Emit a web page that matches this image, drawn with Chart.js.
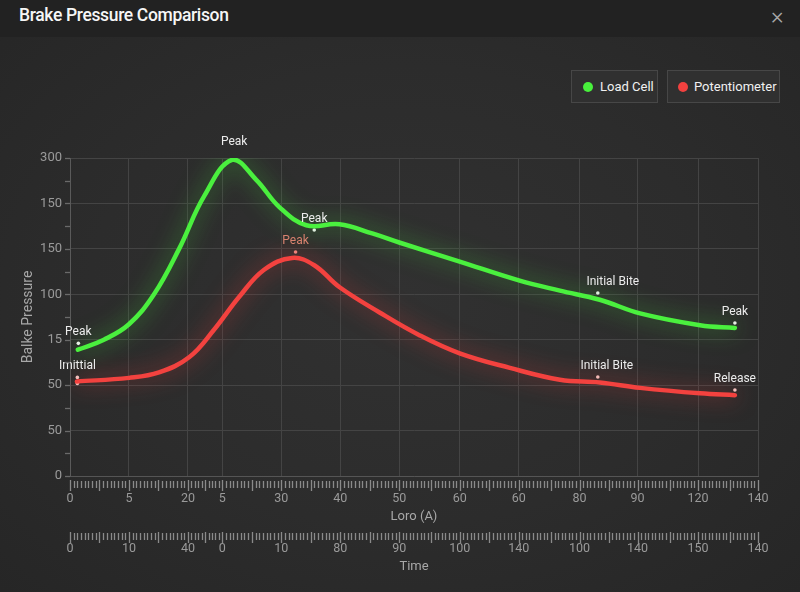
<!DOCTYPE html>
<html><head><meta charset="utf-8">
<script src="https://cdn.jsdelivr.net/npm/chart.js@4.4.0/dist/chart.umd.min.js"></script>
<style>
html,body{margin:0;padding:0;width:800px;height:592px;overflow:hidden;font-family:Roboto,"Noto Sans",sans-serif;}
body{background:radial-gradient(ellipse at 50% 50%, #313131 0%, #2c2c2c 55%, #262626 100%);position:relative;}
#bar{position:absolute;left:0;top:0;width:800px;height:37px;background:#222222;}
#title{position:absolute;left:19px;top:5px;color:#f6f6f6;font-size:17.5px;font-weight:500;letter-spacing:-0.35px;}
#close{position:absolute;left:771px;top:2px;color:#a8a8a8;font-size:24px;font-weight:300;}
.lg{position:absolute;top:70px;height:33px;box-sizing:border-box;border:1px solid #474747;background:#303030;color:#f0f0f0;font-size:13px;line-height:31px;}
.dot{position:absolute;top:11px;width:10px;height:10px;border-radius:50%;}
canvas{position:absolute;left:0;top:0;}
</style></head>
<body>
<div id="bar"><div id="title">Brake Pressure Comparison</div><div id="close">×</div></div>
<div class="lg" style="left:571px;width:87px;"><span class="dot" style="left:11px;background:#48f03c"></span><span style="position:absolute;left:28px;">Load Cell</span></div>
<div class="lg" style="left:667px;width:113px;"><span class="dot" style="left:10px;background:#f2413f"></span><span style="position:absolute;left:26px;">Potentiometer</span></div>
<canvas id="c" width="800" height="592"></canvas>
<script>
// ---- data ----
const loadCellX = [1.6, 6.9, 12.0, 17.1, 22.2, 27.3, 33.0, 37.9, 42.6, 48.1, 54.8, 61.5, 67.0, 79.3, 91.5, 99.7, 107.8, 116.0, 128.2, 135.3];
const loadCellY = [139, 150, 167, 200, 250, 308, 348, 326, 296, 276, 277, 267, 257, 236, 215, 204, 194, 179, 166, 163];
const potX = [1.4, 12.0, 18.1, 24.3, 29.3, 34.4, 39.5, 45.2, 49.7, 54.8, 63.0, 71.1, 79.3, 89.5, 99.7, 107.8, 116.0, 128.2, 135.3];
const potY = [104, 108, 114, 131, 161, 197, 227, 240, 232, 208, 180, 155, 135, 119, 106, 103, 97, 91, 89];

const yTickValues = [0, 50, 100, 150, 200, 250, 300, 350];
const yTickLabels = ['0', '50', '50', '15', '100', '150', '150', '300'];
const xTickValues = [0, 12, 24, 31, 43, 55, 67, 79.3, 91.3, 103.7, 115.5, 127.8, 140];
const xTickLabels = ['0', '5', '20', '5', '30', '40', '50', '60', '60', '80', '90', '120', '140'];
const timeTickLabels = ['0', '10', '40', '0', '10', '80', '90', '100', '140', '100', '140', '150', '140'];

const noteX = [1.7, 33.4, 49.7, 107.4, 135.3, 1.5, 1.5, 45.9, 107.4, 135.3];
const noteY = [146, 355.5, 270.7, 201.4, 168.4, 108.5, 101.9, 246.5, 109, 94.7];
const noteText = ['Peak', 'Peak', 'Peak', 'Initial Bite', 'Peak', 'Imittial', '', 'Peak', 'Initial Bite', 'Release'];
const noteSeries = ['load', 'load', 'load', 'load', 'load', 'pot', 'pot', 'pot', 'pot', 'pot'];

// ---- styles ----
const GREEN = '#4af03e', RED = '#f3423f';
const pts = (xs, ys) => xs.map((x, i) => ({x, y: ys[i]}));

const glowPlugin = {
  id: 'glow',
  beforeDatasetDraw(chart, args) {
    const ds = chart.data.datasets[args.index];
    if (!ds.glowColor) return;
    chart.ctx.save();
    chart.ctx.shadowColor = ds.glowColor;
    chart.ctx.shadowBlur = 22;
  },
  afterDatasetDraw(chart, args) {
    const ds = chart.data.datasets[args.index];
    if (!ds.glowColor) return;
    chart.ctx.restore();
  }
};

const tickPlugin = {
  id: 'tickMarks',
  afterDraw(chart) {
    const ctx = chart.ctx;
    ctx.save();
    ctx.strokeStyle = '#8a8a8a';
    ctx.lineWidth = 1.3;
    const drawRow = (scale, yShort0, yShort1, yTall0, yTall1) => {
      for (let i = 0; i < xTickValues.length - 1; i++) {
        const p0 = scale.getPixelForValue(xTickValues[i]);
        const p1 = scale.getPixelForValue(xTickValues[i + 1]);
        const n = Math.max(2, Math.round((p1 - p0) / 3.6));
        const mid = Math.round(n / 2);
        for (let k = 0; k <= n; k++) {
          if (k === n && i < xTickValues.length - 2) continue;
          const px = Math.round(p0 + (p1 - p0) * k / n) + 0.5;
          const tall = (k === 0 || k === n || k === mid);
          ctx.beginPath();
          ctx.moveTo(px, tall ? yTall0 : yShort0);
          ctx.lineTo(px, tall ? yTall1 : yShort1);
          ctx.stroke();
        }
      }
    };
    const sx = chart.scales.x, sx2 = chart.scales.x2, sy = chart.scales.y;
    drawRow(sx, sx.top + 5, sx.top + 12, sx.top + 4, sx.top + 15);
    drawRow(sx2, sx2.top + 7, sx2.top + 14, sx2.top + 6, sx2.top + 17);
    ctx.strokeStyle = '#6a6a6a';
    for (let v = 0; v <= 350; v += 25) {
      const py = Math.round(sy.getPixelForValue(v)) + 0.5;
      ctx.beginPath();
      ctx.moveTo(sy.right - 5, py);
      ctx.lineTo(sy.right, py);
      ctx.stroke();
    }
    ctx.restore();
  }
};

const noteLabelPlugin = {
  id: 'noteLabels',
  afterDatasetsDraw(chart) {
    const meta = chart.getDatasetMeta(2);
    const ctx = chart.ctx;
    ctx.save();
    ctx.font = '12px Roboto, "Noto Sans", sans-serif';
    ctx.textBaseline = 'middle';
    ctx.textAlign = 'center';
    meta.data.forEach((el, i) => {
      if (!noteText[i]) return;
      ctx.fillStyle = (noteSeries[i] === 'pot' && noteText[i] === 'Peak') ? '#d8836f' : '#ececec';
      let dx = 0;
      if (noteText[i] === 'Initial Bite') dx = noteSeries[i] === 'load' ? 15 : 9;
      ctx.fillText(noteText[i], el.x + dx, el.y - 11);
    });
    ctx.restore();
  }
};

const tickColor = '#9a9a9a';
const tickFont = {family: 'Roboto, "Noto Sans", sans-serif', size: 12.5};

new Chart(document.getElementById('c'), {
  type: 'line',
  data: {
    datasets: [
      {
        label: 'Load Cell', data: pts(loadCellX, loadCellY),
        borderColor: GREEN, borderWidth: 4.5, pointRadius: 0, tension: 0.4,
        glowColor: 'rgba(70,240,60,0.6)',
        borderCapStyle: 'round', xAxisID: 'x', yAxisID: 'y'
      },
      {
        label: 'Potentiometer', data: pts(potX, potY),
        borderColor: RED, borderWidth: 4.5, pointRadius: 0, tension: 0.4,
        glowColor: 'rgba(245,60,60,0.65)',
        borderCapStyle: 'round', xAxisID: 'x', yAxisID: 'y'
      },
      {
        label: 'notes', data: pts(noteX, noteY), showLine: false,
        pointRadius: 1.8, pointBorderWidth: 0,
        pointBackgroundColor: noteSeries.map((s, i) => s === 'pot' ? (noteText[i] === 'Peak' ? '#f08a80' : '#f4c8c4') : '#f0f0f0'),
        clip: false, xAxisID: 'x', yAxisID: 'y'
      }
    ]
  },
  options: {
    responsive: false, animation: false, devicePixelRatio: 1,
    layout: {padding: {top: 158, right: 42, bottom: 10, left: 0}},
    plugins: {legend: {display: false}, tooltip: {enabled: false}},
    scales: {
      x: {
        type: 'linear', position: 'bottom', weight: 0, min: 0, max: 140,
        afterBuildTicks: s => { s.ticks = xTickValues.map(v => ({value: v})); },
        afterFit: s => { s.height = 50; },
        ticks: {autoSkip: false, maxRotation: 0, padding: 15.5, color: tickColor, font: tickFont,
          callback: (v, i) => xTickLabels[i]},
        grid: {color: '#444444', lineWidth: 1, drawTicks: false},
        border: {display: true, color: '#555555'},
        title: {display: true, text: 'Loro (A)', color: '#a8a8a8', font: {family: 'Roboto, "Noto Sans", sans-serif', size: 13}, padding: {top: 0, bottom: 1}}
      },
      x2: {
        type: 'linear', position: 'bottom', weight: 1, min: 0, max: 140,
        afterBuildTicks: s => { s.ticks = xTickValues.map(v => ({value: v})); },
        afterFit: s => { s.height = 56; },
        ticks: {autoSkip: false, maxRotation: 0, padding: 15.5, color: tickColor, font: tickFont,
          callback: (v, i) => timeTickLabels[i]},
        grid: {drawOnChartArea: false, drawTicks: false},
        border: {display: false},
        title: {display: true, text: 'Time', color: '#a8a8a8', font: {family: 'Roboto, "Noto Sans", sans-serif', size: 13}, padding: {top: 0, bottom: 7}}
      },
      y: {
        type: 'linear', position: 'left', min: 0, max: 350,
        afterBuildTicks: s => { s.ticks = yTickValues.map(v => ({value: v})); },
        afterFit: s => { s.width = 70; },
        ticks: {autoSkip: false, padding: 8, color: tickColor, font: {family: 'Roboto, "Noto Sans", sans-serif', size: 13},
          callback: (v, i) => yTickLabels[i]},
        grid: {color: '#444444', lineWidth: 1, drawTicks: false},
        border: {display: true, color: '#5a5a5a'},
        title: {display: true, text: 'Balke Pressure', color: '#a8a8a8', font: {family: 'Roboto, "Noto Sans", sans-serif', size: 14}, padding: {top: 20, bottom: 0}}
      }
    }
  },
  plugins: [glowPlugin, tickPlugin, noteLabelPlugin]
});
</script>
</body></html>
